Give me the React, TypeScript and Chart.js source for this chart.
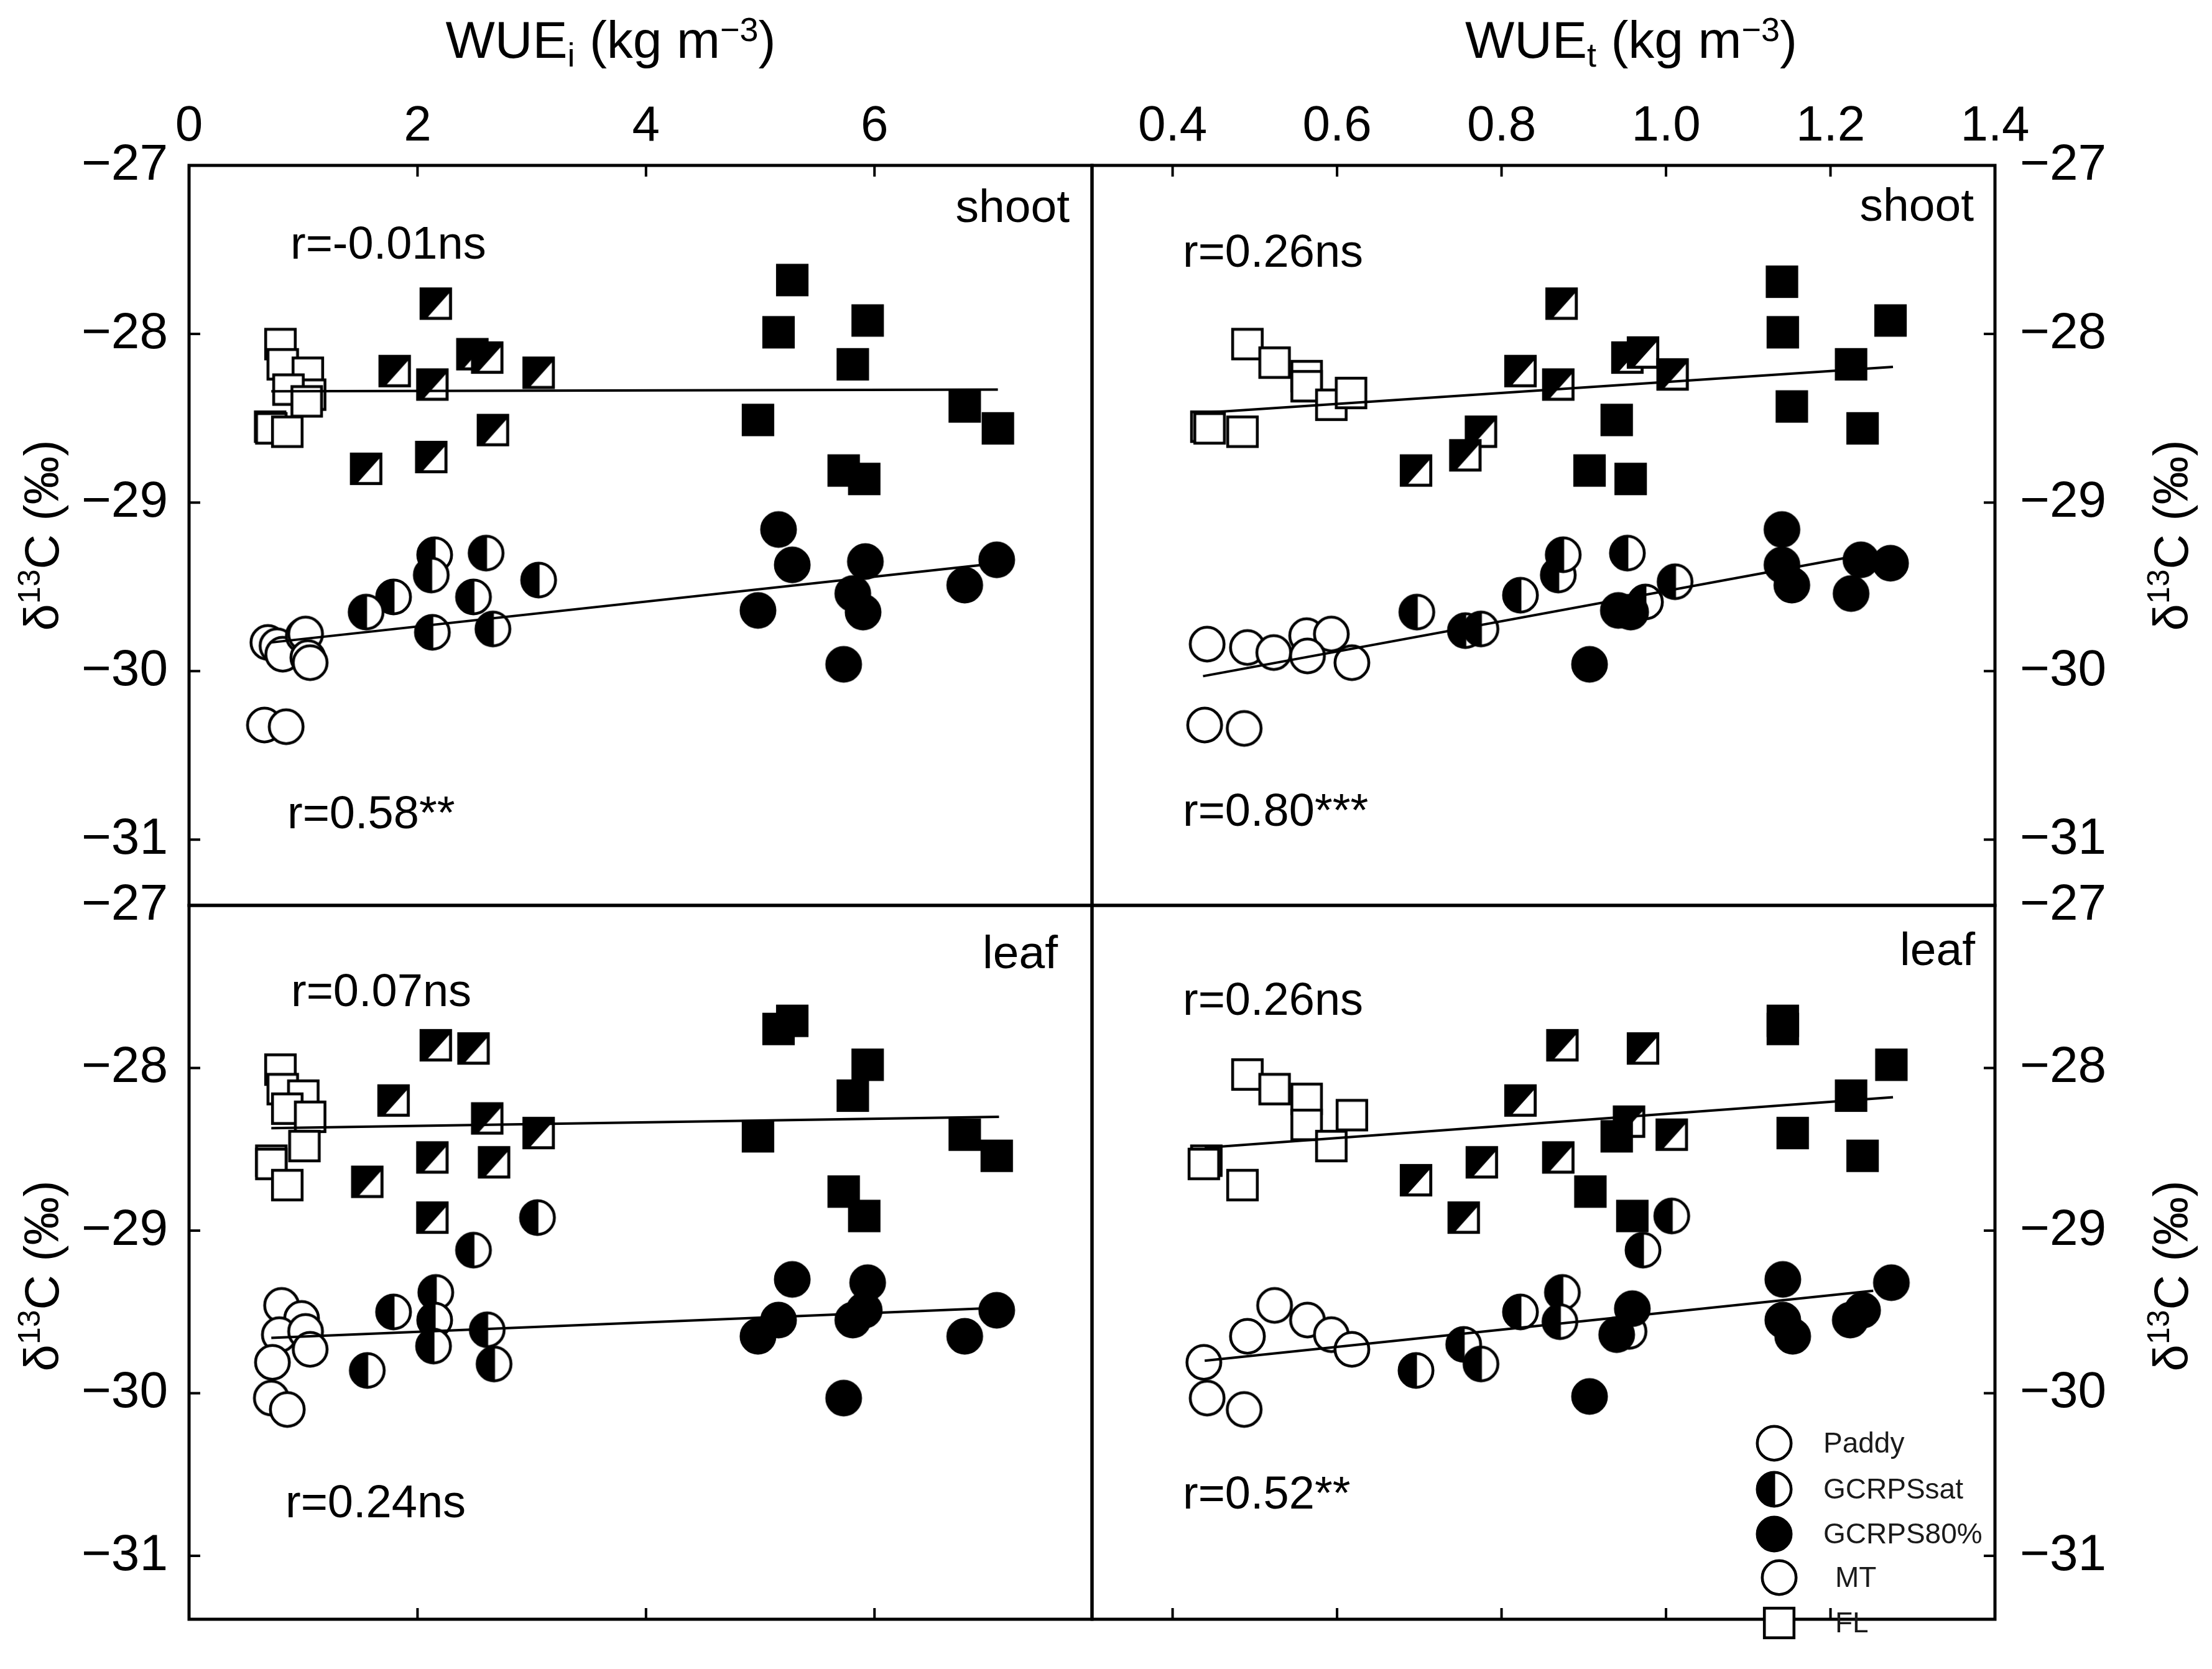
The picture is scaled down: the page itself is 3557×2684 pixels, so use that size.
import React, { useEffect, useRef } from 'react';
import { Chart, registerables } from 'chart.js';

Chart.register(...registerables);
const FONT = '"Liberation Sans", Arial, Helvetica, sans-serif';
Chart.defaults.font.family = FONT;
Chart.defaults.color = '#000';

type Pt = [number, number];

// ---------- tick values ----------
const wueiTicks = [0, 2, 4, 6];
const wuetTicks = [0.4, 0.6, 0.8, 1.0, 1.2, 1.4];
const d13cTicks = [-31, -30, -29, -28, -27];
const legendLabels = ['Paddy', 'GCRPSsat', 'GCRPS80%', 'MT', 'FL'];

// ---------- shoot δ13C vs WUEi (top-left) ----------
const sI_FL_Paddy: Pt[] = [[0.80, -28.06], [0.82, -28.18], [1.04, -28.23], [1.06, -28.36], [0.87, -28.33], [1.03, -28.40], [0.71, -28.55], [0.72, -28.56], [0.86, -28.58]];
const sI_FL_Sat: Pt[] = [[2.16, -27.82], [1.80, -28.22], [2.13, -28.30], [2.48, -28.12], [2.61, -28.14], [3.06, -28.23], [2.66, -28.57], [2.12, -28.73], [1.55, -28.80]];
const sI_FL_80: Pt[] = [[5.28, -27.68], [5.16, -27.99], [5.94, -27.92], [5.81, -28.18], [4.98, -28.51], [6.79, -28.43], [7.08, -28.56], [5.73, -28.81], [5.91, -28.86]];
const sI_MT_Paddy: Pt[] = [[0.69, -29.83], [0.77, -29.85], [0.82, -29.90], [1.00, -29.79], [1.02, -29.78], [1.04, -29.92], [1.06, -29.95], [0.66, -30.32], [0.85, -30.33]];
const sI_MT_Sat: Pt[] = [[2.15, -29.31], [2.12, -29.43], [2.60, -29.30], [3.06, -29.46], [2.49, -29.56], [1.79, -29.56], [1.55, -29.65], [2.13, -29.77], [2.66, -29.75]];
const sI_MT_80: Pt[] = [[5.16, -29.16], [5.28, -29.37], [5.92, -29.35], [5.81, -29.54], [5.90, -29.65], [4.98, -29.64], [5.73, -29.96], [6.79, -29.49], [7.07, -29.34]];
const sI_FL_fit: Pt[] = [[0.72, -28.34], [7.08, -28.33]];
const sI_MT_fit: Pt[] = [[0.72, -29.83], [7.08, -29.36]];

// ---------- shoot δ13C vs WUEt (top-right) ----------
const sT_FL_Paddy: Pt[] = [[0.491, -28.06], [0.524, -28.17], [0.563, -28.25], [0.563, -28.31], [0.593, -28.42], [0.617, -28.35], [0.441, -28.55], [0.445, -28.56], [0.485, -28.58]];
const sT_FL_Sat: Pt[] = [[0.873, -27.82], [0.823, -28.22], [0.869, -28.30], [0.775, -28.58], [0.756, -28.72], [0.696, -28.81], [0.953, -28.14], [0.972, -28.11], [1.008, -28.24]];
const sT_FL_80: Pt[] = [[0.940, -28.51], [0.907, -28.81], [0.957, -28.86], [1.141, -27.69], [1.142, -27.99], [1.273, -27.92], [1.225, -28.18], [1.153, -28.43], [1.239, -28.56]];
const sT_MT_Paddy: Pt[] = [[0.442, -29.84], [0.491, -29.86], [0.523, -29.89], [0.563, -29.79], [0.593, -29.78], [0.564, -29.91], [0.618, -29.95], [0.439, -30.32], [0.487, -30.34]];
const sT_MT_Sat: Pt[] = [[0.697, -29.65], [0.756, -29.76], [0.775, -29.75], [0.823, -29.55], [0.869, -29.43], [0.875, -29.31], [0.953, -29.30], [0.975, -29.59], [1.011, -29.47]];
const sT_MT_80: Pt[] = [[1.141, -29.16], [1.141, -29.37], [1.153, -29.49], [1.237, -29.34], [1.273, -29.36], [1.225, -29.54], [0.942, -29.64], [0.957, -29.65], [0.907, -29.96]];
const sT_FL_fit: Pt[] = [[0.43, -28.47], [1.276, -28.195]];
const sT_MT_fit: Pt[] = [[0.437, -30.03], [1.25, -29.30]];

// ---------- leaf δ13C vs WUEi (bottom-left) ----------
const lI_FL_Paddy: Pt[] = [[0.80, -28.01], [0.82, -28.13], [1.00, -28.17], [0.86, -28.25], [1.06, -28.30], [1.01, -28.48], [0.72, -28.57], [0.72, -28.59], [0.86, -28.72]];
const lI_FL_Sat: Pt[] = [[2.16, -27.86], [2.49, -27.88], [1.79, -28.20], [2.61, -28.31], [3.06, -28.40], [2.13, -28.55], [2.67, -28.58], [1.56, -28.70], [2.13, -28.92]];
const lI_FL_80: Pt[] = [[5.28, -27.71], [5.16, -27.76], [5.94, -27.98], [5.81, -28.17], [4.98, -28.42], [6.79, -28.41], [7.07, -28.54], [5.73, -28.76], [5.91, -28.91]];
const lI_MT_Paddy: Pt[] = [[0.81, -29.46], [0.985, -29.54], [0.79, -29.64], [1.02, -29.62], [1.06, -29.73], [0.73, -29.81], [0.72, -30.03], [0.86, -30.10]];
const lI_MT_Sat: Pt[] = [[2.16, -29.38], [1.79, -29.50], [2.15, -29.55], [2.61, -29.61], [2.14, -29.71], [1.56, -29.86], [2.67, -29.82], [2.49, -29.12], [3.05, -28.92]];
const lI_MT_80: Pt[] = [[5.28, -29.30], [5.16, -29.55], [4.98, -29.65], [5.94, -29.32], [5.91, -29.49], [5.81, -29.55], [5.73, -30.03], [6.79, -29.65], [7.07, -29.49]];
const lI_FL_fit: Pt[] = [[0.72, -28.37], [7.09, -28.30]];
const lI_MT_fit: Pt[] = [[0.72, -29.66], [7.07, -29.475]];

// ---------- leaf δ13C vs WUEt (bottom-right) ----------
const lT_FL_Paddy: Pt[] = [[0.491, -28.04], [0.524, -28.13], [0.563, -28.19], [0.563, -28.35], [0.618, -28.29], [0.593, -28.48], [0.441, -28.57], [0.438, -28.59], [0.485, -28.72]];
const lT_FL_Sat: Pt[] = [[0.874, -27.86], [0.972, -27.88], [0.823, -28.20], [0.955, -28.33], [1.007, -28.41], [0.869, -28.55], [0.776, -28.58], [0.696, -28.69], [0.754, -28.92]];
const lT_FL_80: Pt[] = [[1.142, -27.71], [1.142, -27.76], [1.274, -27.98], [1.225, -28.17], [1.154, -28.40], [1.239, -28.54], [0.940, -28.42], [0.908, -28.76], [0.959, -28.91]];
const lT_MT_Paddy: Pt[] = [[0.524, -29.46], [0.564, -29.55], [0.491, -29.65], [0.593, -29.64], [0.618, -29.73], [0.438, -29.81], [0.442, -30.03], [0.487, -30.10]];
const lT_MT_Sat: Pt[] = [[0.874, -29.38], [0.823, -29.50], [0.871, -29.56], [0.696, -29.86], [0.754, -29.70], [0.775, -29.82], [1.007, -28.91], [0.972, -29.12], [0.955, -29.62]];
const lT_MT_80: Pt[] = [[1.142, -29.30], [1.274, -29.32], [1.142, -29.55], [1.154, -29.65], [1.239, -29.49], [1.224, -29.55], [0.959, -29.48], [0.940, -29.64], [0.907, -30.02]];
const lT_FL_fit: Pt[] = [[0.439, -28.49], [1.276, -28.18]];
const lT_MT_fit: Pt[] = [[0.439, -29.80], [1.252, -29.37]];

// ---------- markers ----------
type Shape = 'circle' | 'square';
type Fill = 'open' | 'half' | 'full';
const markerCache: Record<string, HTMLCanvasElement> = {};
function marker(shape: Shape, fill: Fill): HTMLCanvasElement {
  const key = shape + fill;
  if (markerCache[key]) return markerCache[key];
  const S = shape === 'circle' ? 68 : 62;
  const c = document.createElement('canvas');
  c.width = S; c.height = S;
  const ctx = c.getContext('2d')!;
  const lw = 4.6; const m = S / 2;
  ctx.lineWidth = lw; ctx.strokeStyle = '#000';
  if (shape === 'circle') {
    const r = 27.2;
    ctx.beginPath(); ctx.arc(m, m, r, 0, Math.PI * 2);
    ctx.fillStyle = fill === 'full' ? '#000' : '#fff'; ctx.fill();
    if (fill === 'half') {
      ctx.beginPath(); ctx.moveTo(m, m - r);
      ctx.arc(m, m, r, -Math.PI / 2, Math.PI / 2, true);
      ctx.closePath(); ctx.fillStyle = '#000'; ctx.fill();
      ctx.beginPath(); ctx.moveTo(m, m - r); ctx.lineTo(m, m + r); ctx.lineWidth = 3; ctx.stroke(); ctx.lineWidth = lw;
    }
    ctx.beginPath(); ctx.arc(m, m, r, 0, Math.PI * 2); ctx.stroke();
  } else {
    const s = 47.6; const x0 = m - s / 2; const y0 = m - s / 2;
    ctx.fillStyle = fill === 'open' ? '#fff' : '#000'; ctx.fillRect(x0, y0, s, s);
    if (fill === 'half') {
      ctx.fillStyle = '#fff'; ctx.beginPath();
      ctx.moveTo(x0 + 11, y0 + s - 2.3); ctx.lineTo(x0 + s - 2.3, y0 + 7); ctx.lineTo(x0 + s - 2.3, y0 + s - 2.3);
      ctx.closePath(); ctx.fill();
    }
    ctx.strokeRect(x0, y0, s, s);
  }
  markerCache[key] = c;
  return c;
}

// ---------- panel specs ----------
type TextItem = { t: string; x: number; y: number; align: CanvasTextAlign; size: number };
type RichPart = { t: string; s: number; dy: number };
interface PanelSpec {
  cx: number; cy: number; cw: number; ch: number;
  area: { l: number; t: number; r: number; b: number };
  xMin: number; xMax: number; xTicks: number[]; xFmt: (v: number) => string;
  xPos: 'top' | 'bottom'; yPos: 'left' | 'right';
  series: { flP: Pt[]; flS: Pt[]; fl8: Pt[]; mtP: Pt[]; mtS: Pt[]; mt8: Pt[]; flFit: Pt[]; mtFit: Pt[] };
  texts: TextItem[];
  title?: { parts: RichPart[]; x: number; y: number };
  yTitle: { x: number; y: number };
  legend?: boolean;
}

const Y_MIN = -31.39, Y_MAX = -27;
const wueiTitle = (sub: string): RichPart[] => [
  { t: 'WUE', s: 84, dy: 0 }, { t: sub, s: 54, dy: 14 }, { t: ' (kg m', s: 84, dy: 0 }, { t: '\u22123', s: 54, dy: -27 }, { t: ')', s: 84, dy: 0 },
];
const d13cTitle: RichPart[] = [{ t: '\u03b4', s: 78, dy: 0 }, { t: '13', s: 50, dy: -30 }, { t: 'C (\u2030)', s: 78, dy: 0 }];

const panels: PanelSpec[] = [
  {
    cx: 0, cy: 0, cw: 1800, ch: 1500, area: { l: 304, t: 266, r: 1756, b: 1456 },
    xMin: 0, xMax: 7.904, xTicks: wueiTicks, xFmt: (v) => String(v), xPos: 'top', yPos: 'left',
    series: { flP: sI_FL_Paddy, flS: sI_FL_Sat, fl8: sI_FL_80, mtP: sI_MT_Paddy, mtS: sI_MT_Sat, mt8: sI_MT_80, flFit: sI_FL_fit, mtFit: sI_MT_fit },
    texts: [
      { t: 'shoot', x: 1720, y: 357, align: 'right', size: 75 },
      { t: 'r=-0.01ns', x: 467, y: 416, align: 'left', size: 74 },
      { t: 'r=0.58**', x: 462, y: 1332, align: 'left', size: 74 },
    ],
    title: { parts: wueiTitle('i'), x: 982, y: 93 },
    yTitle: { x: 66, y: 861 },
  },
  {
    cx: 1712, cy: 0, cw: 1845, ch: 1500, area: { l: 1756, t: 266, r: 3208, b: 1456 },
    xMin: 0.302, xMax: 1.4, xTicks: wuetTicks, xFmt: (v) => v.toFixed(1), xPos: 'top', yPos: 'right',
    series: { flP: sT_FL_Paddy, flS: sT_FL_Sat, fl8: sT_FL_80, mtP: sT_MT_Paddy, mtS: sT_MT_Sat, mt8: sT_MT_80, flFit: sT_FL_fit, mtFit: sT_MT_fit },
    texts: [
      { t: 'shoot', x: 3174, y: 355, align: 'right', size: 75 },
      { t: 'r=0.26ns', x: 1902, y: 429, align: 'left', size: 74 },
      { t: 'r=0.80***', x: 1902, y: 1328, align: 'left', size: 74 },
    ],
    title: { parts: wueiTitle('t'), x: 2623, y: 93 },
    yTitle: { x: 3490, y: 861 },
  },
  {
    cx: 0, cy: 1412, cw: 1800, ch: 1272, area: { l: 304, t: 1456, r: 1756, b: 2648 },
    xMin: 0, xMax: 7.904, xTicks: wueiTicks, xFmt: (v) => String(v), xPos: 'bottom', yPos: 'left',
    series: { flP: lI_FL_Paddy, flS: lI_FL_Sat, fl8: lI_FL_80, mtP: lI_MT_Paddy, mtS: lI_MT_Sat, mt8: lI_MT_80, flFit: lI_FL_fit, mtFit: lI_MT_fit },
    texts: [
      { t: 'leaf', x: 1701, y: 1557, align: 'right', size: 75 },
      { t: 'r=0.07ns', x: 468, y: 1618, align: 'left', size: 74 },
      { t: 'r=0.24ns', x: 459, y: 2440, align: 'left', size: 74 },
    ],
    yTitle: { x: 66, y: 2052 },
  },
  {
    cx: 1712, cy: 1412, cw: 1845, ch: 1272, area: { l: 1756, t: 1456, r: 3208, b: 2648 },
    xMin: 0.302, xMax: 1.4, xTicks: wuetTicks, xFmt: (v) => v.toFixed(1), xPos: 'bottom', yPos: 'right',
    series: { flP: lT_FL_Paddy, flS: lT_FL_Sat, fl8: lT_FL_80, mtP: lT_MT_Paddy, mtS: lT_MT_Sat, mt8: lT_MT_80, flFit: lT_FL_fit, mtFit: lT_MT_fit },
    texts: [
      { t: 'leaf', x: 3176, y: 1552, align: 'right', size: 75 },
      { t: 'r=0.26ns', x: 1902, y: 1632, align: 'left', size: 74 },
      { t: 'r=0.52**', x: 1902, y: 2426, align: 'left', size: 74 },
    ],
    yTitle: { x: 3490, y: 2052 },
    legend: true,
  },
];

function drawRich(ctx: CanvasRenderingContext2D, parts: RichPart[], x: number, y: number) {
  let w = 0;
  for (const p of parts) { ctx.font = `${p.s}px ${FONT}`; w += ctx.measureText(p.t).width; }
  let cx = x - w / 2;
  ctx.textAlign = 'left'; ctx.textBaseline = 'alphabetic';
  for (const p of parts) {
    ctx.font = `${p.s}px ${FONT}`;
    ctx.fillText(p.t, cx, y + p.dy);
    cx += ctx.measureText(p.t).width;
  }
}

const zeroPadding = (sc: any) => {
  sc.paddingTop = 0; sc.paddingBottom = 0; sc.paddingLeft = 0; sc.paddingRight = 0;
};

function buildConfig(p: PanelSpec): any {
  const toXY = (a: Pt[]) => a.map(([x, y]) => ({ x, y }));
  const pts = (label: string, data: Pt[], img: HTMLCanvasElement, order: number) => ({
    type: 'scatter', label, data: toXY(data), pointStyle: img, pointRadius: 6, pointHoverRadius: 6, order, showLine: false,
  });
  const fit = (label: string, data: Pt[]) => ({
    type: 'scatter', label, data: toXY(data), showLine: true, borderColor: '#000', borderWidth: 4,
    pointRadius: 0, pointHoverRadius: 0, order: 0, fill: false,
  });
  const s = p.series;
  const aL = p.area.l - p.cx, aT = p.area.t - p.cy, aR = p.area.r - p.cx, aB = p.area.b - p.cy;
  const xShown = p.xPos === 'top';

  const deco = {
    id: 'deco' + p.cx + '_' + p.cy,
    afterDraw(chart: any) {
      const ctx: CanvasRenderingContext2D = chart.ctx;
      const a = chart.chartArea; const xs = chart.scales.x; const ys = chart.scales.y;
      ctx.save();
      ctx.strokeStyle = '#000'; ctx.lineCap = 'butt';
      ctx.lineWidth = 5;
      ctx.strokeRect(a.left, a.top, a.right - a.left, a.bottom - a.top);
      ctx.lineWidth = 4;
      const TL = 18;
      ctx.beginPath();
      for (const v of p.xTicks) {
        const px = xs.getPixelForValue(v);
        if (px < a.left + 4 || px > a.right - 4) continue;
        if (p.xPos === 'top') { ctx.moveTo(px, a.top); ctx.lineTo(px, a.top + TL); }
        else { ctx.moveTo(px, a.bottom); ctx.lineTo(px, a.bottom - TL); }
      }
      for (const v of d13cTicks) {
        const py = ys.getPixelForValue(v);
        if (py < a.top + 4 || py > a.bottom - 4) continue;
        if (p.yPos === 'left') { ctx.moveTo(a.left, py); ctx.lineTo(a.left + TL, py); }
        else { ctx.moveTo(a.right, py); ctx.lineTo(a.right - TL, py); }
      }
      ctx.stroke();

      ctx.translate(-p.cx, -p.cy);
      ctx.fillStyle = '#000';
      for (const t of p.texts) {
        ctx.font = `${t.size}px ${FONT}`;
        ctx.textAlign = t.align; ctx.textBaseline = 'alphabetic';
        ctx.fillText(t.t, t.x, t.y);
      }
      if (p.title) drawRich(ctx, p.title.parts, p.title.x, p.title.y);
      ctx.save();
      ctx.translate(p.yTitle.x, p.yTitle.y);
      ctx.rotate(-Math.PI / 2);
      drawRich(ctx, d13cTitle, 0, 28);
      ctx.restore();

      if (p.legend) {
        const items = [
          { img: marker('circle', 'open'), mx: 2853, tx: 2932, y: 2321 },
          { img: marker('circle', 'half'), mx: 2853, tx: 2932, y: 2395 },
          { img: marker('circle', 'full'), mx: 2853, tx: 2932, y: 2467 },
          { img: marker('circle', 'open'), mx: 2861, tx: 2951, y: 2537 },
          { img: marker('square', 'open'), mx: 2861, tx: 2951, y: 2610 },
        ];
        ctx.font = `46px ${FONT}`; ctx.textAlign = 'left'; ctx.textBaseline = 'middle'; ctx.fillStyle = '#1a1a1a';
        items.forEach((it, i) => {
          ctx.drawImage(it.img, it.mx - it.img.width / 2, it.y - it.img.height / 2);
          ctx.fillText(legendLabels[i], it.tx, it.y + 2);
        });
      }
      ctx.restore();
    },
  };

  return {
    type: 'scatter',
    data: {
      datasets: [
        fit('FL fit', s.flFit),
        fit('MT fit', s.mtFit),
        pts('FL GCRPS80%', s.fl8, marker('square', 'full'), 1),
        pts('MT GCRPS80%', s.mt8, marker('circle', 'full'), 1),
        pts('FL GCRPSsat', s.flS, marker('square', 'half'), 2),
        pts('MT GCRPSsat', s.mtS, marker('circle', 'half'), 2),
        pts('FL Paddy', s.flP, marker('square', 'open'), 3),
        pts('MT Paddy', s.mtP, marker('circle', 'open'), 3),
      ],
    },
    options: {
      responsive: false,
      maintainAspectRatio: false,
      devicePixelRatio: 1,
      animation: false,
      events: [],
      layout: {
        padding: {
          left: p.yPos === 'left' ? 0 : aL,
          right: p.yPos === 'right' ? 0 : p.cw - aR,
          top: xShown ? 0 : aT,
          bottom: p.ch - aB,
        },
      },
      plugins: { legend: { display: false }, tooltip: { enabled: false }, title: { display: false } },
      scales: {
        x: {
          type: 'linear', position: p.xPos, min: p.xMin, max: p.xMax, display: xShown,
          grid: { display: false, drawTicks: false }, border: { display: false },
          ticks: {
            autoSkip: false, maxRotation: 0, minRotation: 0, padding: 14, color: '#000',
            font: { size: 80, family: FONT }, callback: (v: any) => p.xFmt(Number(v)),
          },
          afterBuildTicks: (sc: any) => { sc.ticks = p.xTicks.map((v) => ({ value: v })); },
          afterFit: (sc: any) => { sc.height = aT; zeroPadding(sc); },
        },
        y: {
          type: 'linear', position: p.yPos, min: Y_MIN, max: Y_MAX,
          grid: { display: false, drawTicks: false }, border: { display: false },
          ticks: {
            autoSkip: false, padding: p.yPos === 'left' ? 34 : 40, color: '#000',
            font: { size: 82, family: FONT }, callback: (v: any) => '\u2212' + Math.abs(Number(v)),
          },
          afterBuildTicks: (sc: any) => { sc.ticks = d13cTicks.map((v) => ({ value: v })); },
          afterFit: (sc: any) => { sc.width = p.yPos === 'left' ? aL : p.cw - aR; zeroPadding(sc); },
        },
      },
    },
    plugins: [deco],
  };
}

function Panel({ spec }: { spec: PanelSpec }) {
  const ref = useRef<HTMLCanvasElement>(null);
  useEffect(() => {
    if (!ref.current) return;
    const chart = new Chart(ref.current, buildConfig(spec));
    return () => chart.destroy();
  }, [spec]);
  return (
    <canvas
      ref={ref}
      width={spec.cw}
      height={spec.ch}
      style={{ position: 'absolute', left: spec.cx, top: spec.cy, width: spec.cw, height: spec.ch }}
    />
  );
}

export default function App() {
  return (
    <div style={{ position: 'absolute', left: 0, top: 0, width: 3557, height: 2684, background: '#fff', overflow: 'hidden' }}>
      {panels.map((p, i) => <Panel key={i} spec={p} />)}
    </div>
  );
}
